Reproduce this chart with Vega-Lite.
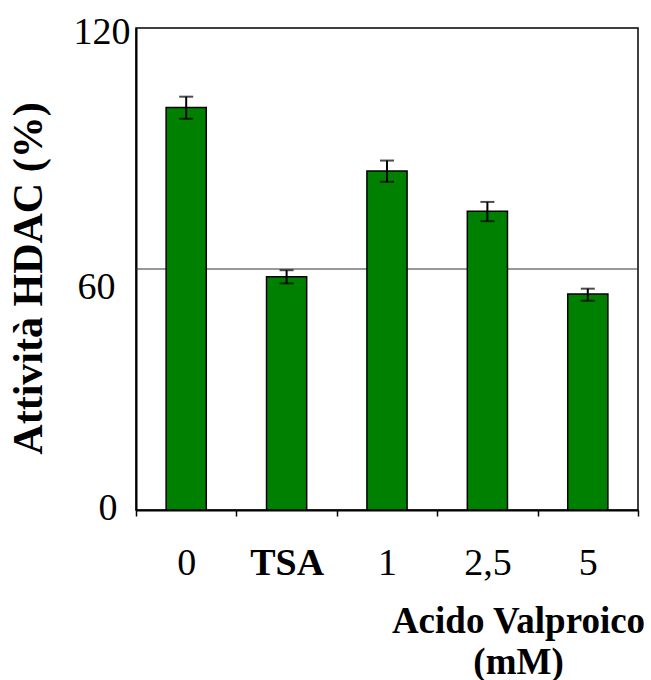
{
  "$schema": "https://vega.github.io/schema/vega-lite/v6.json",
  "width": 502,
  "height": 482,
  "autosize": "none",
  "padding": {"left": 136, "top": 28, "right": 13, "bottom": 170},
  "background": "white",
  "config": {
    "font": "Liberation Serif",
    "view": {"stroke": "black", "strokeWidth": 1.5},
    "axis": {"labelColor": "black", "titleColor": "black", "domainColor": "black", "tickColor": "black", "labelFont": "Liberation Serif", "titleFont": "Liberation Serif"}
  },
  "data": {"values": [
    {"cat": "0", "value": 100.2, "lo": 97.4, "hi": 102.9},
    {"cat": "TSA", "value": 58.1, "lo": 56.4, "hi": 59.7},
    {"cat": "1", "value": 84.4, "lo": 81.7, "hi": 87.0},
    {"cat": "2,5", "value": 74.4, "lo": 71.9, "hi": 76.7},
    {"cat": "5", "value": 53.8, "lo": 52.1, "hi": 55.1}
  ]},
  "encoding": {
    "x": {
      "field": "cat", "type": "nominal", "sort": null,
      "scale": {"paddingInner": 0, "paddingOuter": 0},
      "axis": {
        "title": ["Acido Valproico", "(mM)"],
        "titleFontSize": 37,
        "titleFontWeight": "bold",
        "titleAlign": "center",
        "titleBaseline": "alphabetic",
        "titleX": 382,
        "titleY": 122,
        "titleLineHeight": 41,
        "labelAngle": 0,
        "labelFontSize": 38,
        "labelFontWeight": {"condition": {"test": "datum.value === 'TSA'", "value": "bold"}, "value": "normal"},
        "labelPadding": 28,
        "tickBand": "extent",
        "tickSize": 6,
        "tickWidth": 1.5,
        "domainWidth": 2
      }
    }
  },
  "layer": [
    {
      "data": {"values": [{"ref": 60}]},
      "mark": {"type": "rule", "color": "#333333", "strokeWidth": 1},
      "encoding": {"x": null, "y": {"field": "ref", "type": "quantitative", "title": "Attività HDAC (%)"}}
    },
    {
      "mark": {"type": "bar", "width": {"band": 0.4}, "color": "#008000", "stroke": "black", "strokeWidth": 1.5},
      "encoding": {
        "y": {
          "field": "value", "type": "quantitative",
          "title": "Attività HDAC (%)",
          "scale": {"domain": [0, 120], "nice": false},
          "axis": {
            "values": [0, 60, 120],
            "grid": false,
            "titleFontSize": 42,
            "titleFontWeight": "bold",
            "titleX": -108,
            "titleY": 250,
            "titleBaseline": "middle",
            "labelFontSize": 38,
            "labelPadding": {"condition": [{"test": "datum.value === 60", "value": 21}, {"test": "datum.value === 0", "value": 19}], "value": 6},
            "labelOffset": {"condition": [{"test": "datum.value === 60", "value": 18}, {"test": "datum.value === 0", "value": -2}], "value": 4},
            "ticks": false,
            "domainWidth": 2
          }
        }
      }
    },
    {
      "mark": {"type": "errorbar", "color": "black", "thickness": 2, "ticks": {"size": 14, "color": "black", "thickness": 2}},
      "encoding": {
        "y": {"field": "lo", "type": "quantitative", "title": "Attività HDAC (%)"},
        "y2": {"field": "hi"}
      }
    }
  ]
}
